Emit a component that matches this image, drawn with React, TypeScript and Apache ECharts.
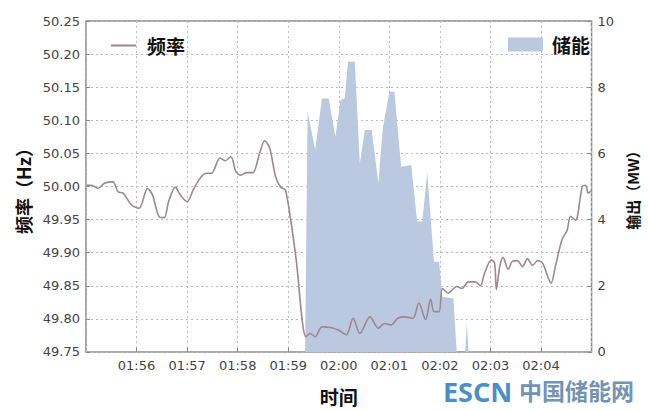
import React, { useEffect, useRef } from "react";
import * as echarts from "echarts";

// time in seconds after 01:55:00
const freqTime = [1, 7, 14, 22, 32, 38, 44, 54, 63, 73, 79, 87, 93, 98, 106, 112, 120, 128, 137, 143, 149, 159, 165, 172, 178, 184, 190, 198, 206, 212, 218, 225, 231, 237, 249, 261, 266, 272, 280, 290, 300, 309, 317, 325, 337, 347, 354, 362, 370, 378, 388, 395, 403, 409, 413, 419, 423, 430, 440, 446, 454, 462, 468, 473, 481, 485, 487, 491, 495, 501, 506, 512, 518, 524, 530, 536, 542, 552, 557, 565, 571, 575, 581, 589, 593, 596, 600];
const freqValues = [50.002, 50.002, 49.997, 50.005, 50.007, 49.992, 49.99, 49.972, 49.967, 49.997, 49.987, 49.954, 49.953, 49.977, 49.999, 49.987, 49.977, 49.997, 50.015, 50.02, 50.02, 50.043, 50.039, 50.045, 50.022, 50.017, 50.021, 50.021, 50.05, 50.069, 50.058, 50.015, 49.999, 49.994, 49.894, 49.773, 49.778, 49.773, 49.788, 49.787, 49.783, 49.776, 49.801, 49.778, 49.803, 49.786, 49.793, 49.791, 49.801, 49.803, 49.801, 49.824, 49.799, 49.83, 49.811, 49.811, 49.846, 49.839, 49.849, 49.846, 49.856, 49.856, 49.85, 49.869, 49.889, 49.884, 49.844, 49.879, 49.893, 49.875, 49.887, 49.888, 49.879, 49.891, 49.881, 49.888, 49.884, 49.854, 49.879, 49.92, 49.934, 49.955, 49.949, 50.0, 50.002, 49.99, 49.994];

const storageTime = [0, 260, 263, 272, 280, 288, 296, 302, 307, 311, 319, 325, 331, 339, 347, 352, 360, 366, 374, 386, 393, 399, 405, 413, 419, 423, 436, 440, 450, 452, 454, 600];
const storageValues = [0, 0, 7.26, 6.1, 7.66, 7.66, 6.5, 7.61, 7.66, 8.77, 8.77, 5.7, 6.71, 6.71, 5.1, 6.71, 7.86, 7.86, 5.6, 5.65, 3.94, 3.94, 5.4, 2.73, 2.73, 1.67, 1.62, 0, 0, 0.87, 0, 0];

const xTickLabels = ["01:55", "01:56", "01:57", "01:58", "01:59", "02:00", "02:01", "02:02", "02:03", "02:04", "02:05"];

const LINE_COLOR = "#a0868f";
const AREA_COLOR = "#bac9df";
const CJK = "'Noto Sans CJK SC', sans-serif";
const LAT = "'DejaVu Sans', sans-serif";

export default function App() {
  const ref = useRef<HTMLDivElement>(null);
  useEffect(() => {
    if (!ref.current) return;
    const chart = echarts.init(ref.current, null, { renderer: "svg" });
    const tickStyle = { color: "#444", fontFamily: LAT, fontSize: 13 };
    chart.setOption({
      animation: false,
      backgroundColor: "#fff",
      grid: { left: 86, right: 50, top: 21, bottom: 59, show: true, borderColor: "#8a8a8a", borderWidth: 1.5, backgroundColor: "transparent" },
      legend: [
        {
          data: [{ name: "频率", icon: "rect", itemStyle: { color: LINE_COLOR } }],
          left: 106,
          top: 31,
          itemWidth: 25,
          itemHeight: 2,
          itemGap: 10,
          textStyle: { fontFamily: CJK, fontSize: 19, color: "#111", fontWeight: "bold", padding: [0, 0, 0, 6] },
        },
        {
          data: [{ name: "储能", icon: "rect" }],
          left: 503,
          top: 30,
          itemWidth: 35,
          itemHeight: 14,
          itemGap: 10,
          textStyle: { fontFamily: CJK, fontSize: 19, color: "#111", fontWeight: "bold", padding: [0, 0, 0, 4] },
        },
      ],
      xAxis: {
        type: "value",
        min: 0,
        max: 600,
        interval: 60,
        name: "时间",
        nameLocation: "middle",
        nameGap: 35,
        nameTextStyle: { fontFamily: CJK, fontSize: 19, fontWeight: "bold", color: "#111" },
        axisLine: { show: false },
        axisTick: { show: true, inside: true, length: 4, lineStyle: { color: "#888" } },
        axisLabel: {
          ...tickStyle,
          margin: 7,
          showMinLabel: false,
          showMaxLabel: false,
          formatter: (v: number) => xTickLabels[Math.round(v / 60)] ?? "",
        },
        splitLine: { show: true, lineStyle: { type: [2, 3], color: "#bbb", width: 1 } },
      },
      yAxis: [
        {
          type: "value",
          min: 49.75,
          max: 50.25,
          interval: 0.05,
          name: "频率（Hz）",
          nameLocation: "middle",
          nameGap: 52,
          nameRotate: 90,
          nameTextStyle: { fontFamily: CJK, fontSize: 18, fontWeight: "bold", color: "#111" },
          axisLine: { show: false },
          axisTick: { show: true, inside: true, length: 4, lineStyle: { color: "#888" } },
          axisLabel: { ...tickStyle, margin: 6, formatter: (v: number) => v.toFixed(2) },
          splitLine: { show: true, lineStyle: { type: [2, 3], color: "#bbb", width: 1 } },
        },
        {
          type: "value",
          min: 0,
          max: 10,
          interval: 2,
          position: "right",
          name: "输出（MW）",
          nameLocation: "middle",
          nameGap: 17,
          nameRotate: 90,
          nameTextStyle: { fontFamily: CJK, fontSize: 15, fontWeight: "bold", color: "#111" },
          axisLine: { show: false },
          axisTick: { show: true, inside: true, length: 4, lineStyle: { color: "#888" } },
          axisLabel: { ...tickStyle, margin: 6 },
          splitLine: { show: false },
        },
      ],
      series: [
        {
          name: "储能",
          type: "line",
          yAxisIndex: 1,
          symbol: "none",
          data: storageTime.map((t, i) => [t, storageValues[i]]),
          lineStyle: { width: 0, color: AREA_COLOR },
          itemStyle: { color: AREA_COLOR },
          areaStyle: { color: AREA_COLOR, opacity: 1 },
          z: 1,
        },
        {
          name: "频率",
          type: "line",
          yAxisIndex: 0,
          symbol: "none",
          smooth: 0.3,
          data: freqTime.map((t, i) => [t, freqValues[i]]),
          lineStyle: { width: 1.6, color: LINE_COLOR },
          itemStyle: { color: LINE_COLOR },
          z: 3,
        },
      ],
      graphic: [
        {
          type: "text",
          left: 443,
          top: 378,
          style: { text: "ESCN", fontFamily: "'Noto Sans', sans-serif", fontWeight: "bold", fontSize: 27, fill: "#4a8fca" },
        },
        {
          type: "text",
          left: 519,
          top: 378,
          style: { text: "中国储能网", fontFamily: CJK, fontWeight: "bold", fontSize: 23, fill: "#7393b5" },
        },
      ],
    });
    return () => chart.dispose();
  }, []);
  return <div ref={ref} style={{ position: "absolute", left: 0, top: 0, width: 648, height: 411 }} />;
}
